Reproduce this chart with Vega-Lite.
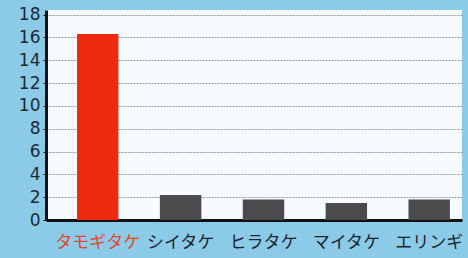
{
  "$schema": "https://vega.github.io/schema/vega-lite/v6.json",
  "autosize": "none",
  "width": 416,
  "height": 210,
  "padding": {"left": 46, "top": 10, "right": 6, "bottom": 38},
  "background": "#8ccbe7",
  "config": {
    "view": {"fill": "#f5fbfe", "stroke": null},
    "font": "DejaVu Sans"
  },
  "data": {
    "values": [
      {"name": "タモギタケ", "value": 16.3, "kind": "highlight"},
      {"name": "シイタケ", "value": 2.2, "kind": "other"},
      {"name": "ヒラタケ", "value": 1.8, "kind": "other"},
      {"name": "マイタケ", "value": 1.5, "kind": "other"},
      {"name": "エリンギ", "value": 1.8, "kind": "other"}
    ]
  },
  "mark": {"type": "bar"},
  "encoding": {
    "x": {
      "field": "name",
      "type": "nominal",
      "sort": null,
      "scale": {"paddingInner": 0.5, "paddingOuter": 0.26, "align": 0.72},
      "axis": {
        "title": null,
        "labelAngle": 0,
        "labelFont": "Noto Sans CJK JP",
        "labelFontSize": 17,
        "labelPadding": 14,
        "labelColor": {"condition": {"test": "datum.value === 'タモギタケ'", "value": "#e2472a"}, "value": "#1b2530"},
        "domainColor": "#111111",
        "domainWidth": 3,
        "ticks": false,
        "grid": false
      }
    },
    "y": {
      "field": "value",
      "type": "quantitative",
      "scale": {"domain": [0, 18.4], "nice": false},
      "axis": {
        "title": null,
        "values": [0, 2, 4, 6, 8, 10, 12, 14, 16, 18],
        "labelFontSize": 17,
        "labelColor": "#1b2a3a",
        "labelPadding": 3,
        "domainColor": "#111111",
        "domainWidth": 3,
        "tickColor": "#111111",
        "tickSize": 3,
        "grid": true,
        "gridColor": "#9a9a9a",
        "gridDash": [2, 1],
        "gridWidth": 1
      }
    },
    "color": {
      "field": "kind",
      "type": "nominal",
      "scale": {"domain": ["highlight", "other"], "range": ["#ee2a0e", "#4b4b4d"]},
      "legend": null
    }
  }
}
